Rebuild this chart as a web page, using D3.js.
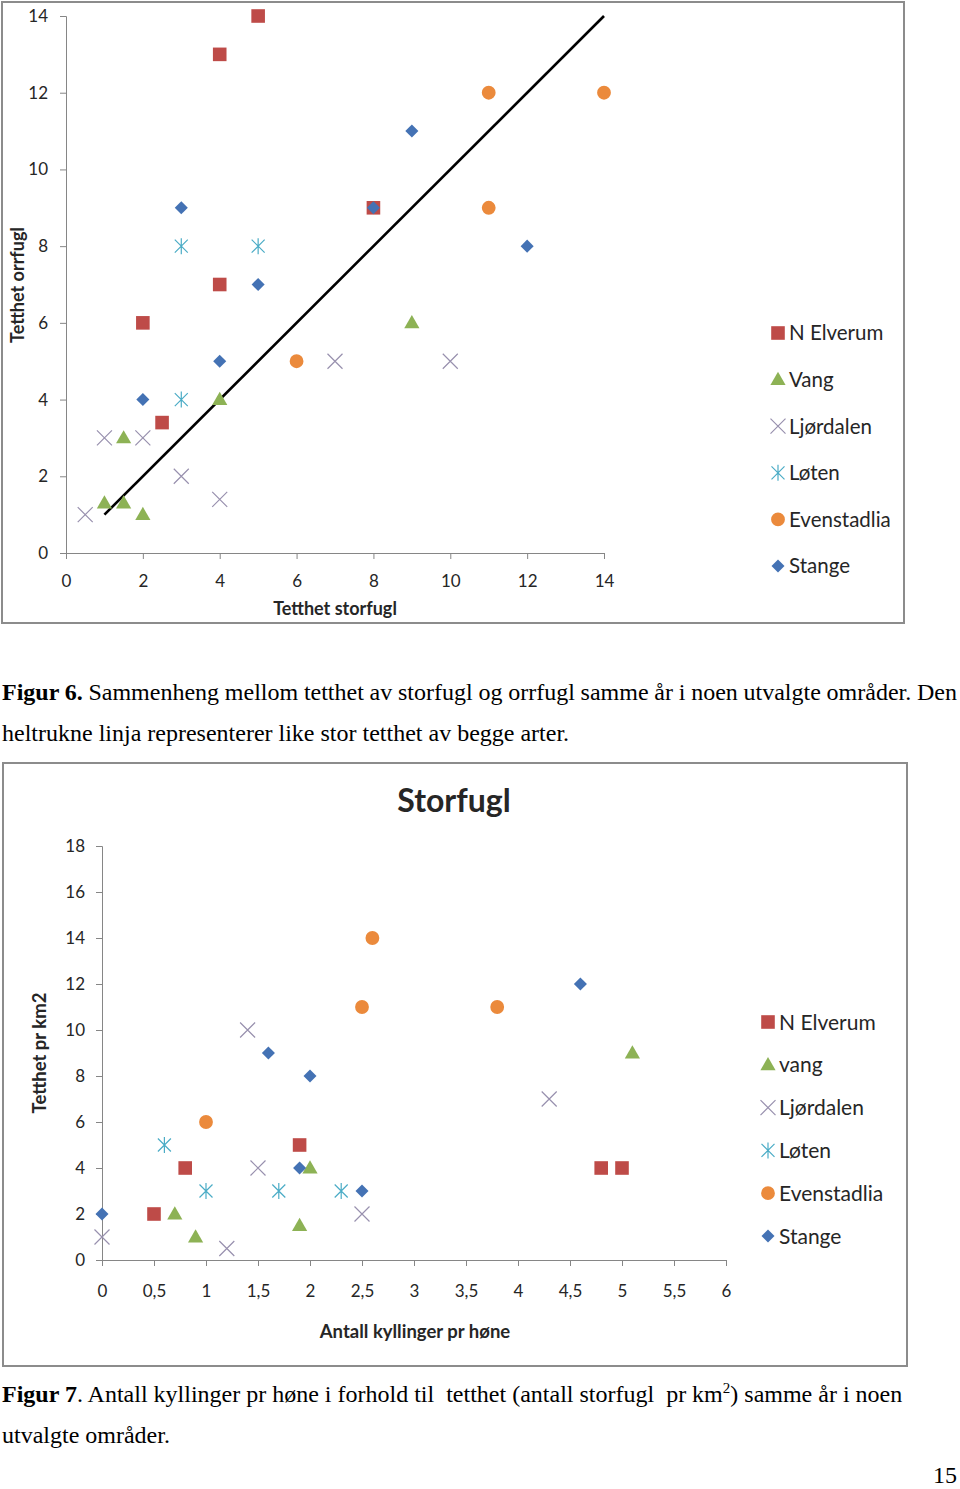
<!DOCTYPE html>
<html><head><meta charset="utf-8">
<script src="https://cdn.jsdelivr.net/npm/d3@7"></script>
<style>
body{margin:0;background:#fff;}
svg{display:block;}
</style></head>
<body>
<svg id="page" width="960" height="1489"></svg>
<script>
// ---------- DATA ----------
const seriesNames6 = ["N Elverum","Vang","Ljørdalen","Løten","Evenstadlia","Stange"];
const seriesNames7 = ["N Elverum","vang","Ljørdalen","Løten","Evenstadlia","Stange"];
const seriesColors = ["#BE4B48","#8DB255","#9890AE","#4BACC6","#EB8A3C","#4472B4"];
const seriesShapes = ["square","triangle","x","asterisk","circle","diamond"];

// Figur 6: [tetthet storfugl, tetthet orrfugl]
const fig6_NElverum   = [[5,14],[4,13],[4,7],[2,6],[2.5,3.4],[8,9]];
const fig6_Vang       = [[1,1.3],[1.5,1.3],[2,1],[1.5,3],[4,4],[9,6]];
const fig6_Ljordalen  = [[0.5,1],[1,3],[2,3],[3,2],[4,1.4],[7,5],[10,5]];
const fig6_Loten      = [[3,8],[5,8],[3,4]];
const fig6_Evenstadlia= [[6,5],[11,12],[11,9],[14,12]];
const fig6_Stange     = [[3,9],[5,7],[4,5],[2,4],[9,11],[8,9],[12,8]];
const fig6_equalLine  = [[1,1],[14,14]];
const fig6_xTicks = [0,2,4,6,8,10,12,14];
const fig6_yTicks = [0,2,4,6,8,10,12,14];

// Figur 7: [antall kyllinger pr høne, tetthet pr km2]
const fig7_NElverum   = [[0.5,2],[0.8,4],[1.9,5],[4.8,4],[5.0,4]];
const fig7_Vang       = [[0.7,2],[0.9,1],[1.9,1.5],[2.0,4],[5.1,9]];
const fig7_Ljordalen  = [[0,1],[1.2,0.5],[1.4,10],[1.5,4],[2.5,2],[4.3,7]];
const fig7_Loten      = [[0.6,5],[1.0,3],[1.7,3],[2.3,3]];
const fig7_Evenstadlia= [[1.0,6],[2.6,14],[2.5,11],[3.8,11]];
const fig7_Stange     = [[0,2],[1.6,9],[2.0,8],[1.9,4],[2.5,3],[4.6,12]];
const fig7_xTicks = [0,0.5,1,1.5,2,2.5,3,3.5,4,4.5,5,5.5,6];
const fig7_yTicks = [0,2,4,6,8,10,12,14,16,18];

const fig6_series = [fig6_NElverum,fig6_Vang,fig6_Ljordalen,fig6_Loten,fig6_Evenstadlia,fig6_Stange];
const fig7_series = [fig7_NElverum,fig7_Vang,fig7_Ljordalen,fig7_Loten,fig7_Evenstadlia,fig7_Stange];

// ---------- DRAW ----------
const svg = d3.select("#page");
const UI = "Lato, 'Open Sans', sans-serif";
const SERIF = "'Liberation Serif', 'DejaVu Serif', serif";
const AXIS = "#868686";

function drawMarker(g, shape, color, x, y){
  if(shape==="square"){
    g.append("path").attr("d", d3.symbol(d3.symbolSquare, 185)()).attr("transform",`translate(${x},${y})`).attr("fill",color);
  } else if(shape==="triangle"){
    g.append("path").attr("d", d3.symbol(d3.symbolTriangle, 100)()).attr("transform",`translate(${x},${y+1})`).attr("fill",color);
  } else if(shape==="circle"){
    g.append("path").attr("d", d3.symbol(d3.symbolCircle, 150)()).attr("transform",`translate(${x},${y})`).attr("fill",color);
  } else if(shape==="diamond"){
    g.append("path").attr("d", d3.symbol(d3.symbolSquare, 85)()).attr("transform",`translate(${x},${y}) rotate(45)`).attr("fill",color);
  } else if(shape==="x"){
    const p = d3.path(); const r=7.5;
    p.moveTo(-r,-r); p.lineTo(r,r); p.moveTo(-r,r); p.lineTo(r,-r);
    g.append("path").attr("d", p.toString()).attr("transform",`translate(${x},${y})`).attr("stroke",color).attr("stroke-width",1.2).attr("fill","none");
  } else if(shape==="asterisk"){
    const p = d3.path(); const r=6.5;
    p.moveTo(-r,-r); p.lineTo(r,r); p.moveTo(-r,r); p.lineTo(r,-r); p.moveTo(0,-8); p.lineTo(0,8);
    g.append("path").attr("d", p.toString()).attr("transform",`translate(${x},${y})`).attr("stroke",color).attr("stroke-width",1.2).attr("fill","none");
  }
}

function styleAxis(g, fs){
  g.select(".domain").attr("stroke",AXIS).attr("stroke-width",1);
  g.selectAll(".tick line").attr("stroke",AXIS).attr("stroke-width",1);
  g.selectAll(".tick text").attr("fill","#262626").attr("font-family",UI).attr("font-size",fs);
}

function drawChart(opt){
  const root = svg.append("g");
  root.append("rect").attr("x",opt.frame[0]).attr("y",opt.frame[1]).attr("width",opt.frame[2]).attr("height",opt.frame[3])
    .attr("fill","#fff").attr("stroke","#8c8c8c").attr("stroke-width",2);
  const x = d3.scaleLinear().domain(opt.xDomain).range(opt.xRange);
  const y = d3.scaleLinear().domain(opt.yDomain).range(opt.yRange);
  const fmt = v => String(v).replace(".", ",");
  const gx = root.append("g").attr("transform",`translate(0,${opt.yRange[0]})`)
    .call(d3.axisBottom(x).tickValues(opt.xTicks).tickSize(6).tickSizeOuter(6).tickPadding(opt.xPad).tickFormat(fmt));
  styleAxis(gx, opt.tickFs);
  const gy = root.append("g").attr("transform",`translate(${opt.xRange[0]},0)`)
    .call(d3.axisLeft(y).tickValues(opt.yTicks).tickSize(6).tickSizeOuter(6).tickPadding(opt.yPad).tickFormat(fmt));
  styleAxis(gy, opt.tickFs);

  if(opt.line){
    root.append("path").datum(opt.line)
      .attr("d", d3.line().x(d=>x(d[0])).y(d=>y(d[1])))
      .attr("stroke","#000").attr("stroke-width",2.6).attr("fill","none");
  }
  const pts = root.append("g");
  opt.series.forEach((s,i)=>{
    s.forEach(d=>drawMarker(pts, seriesShapes[i], seriesColors[i], x(d[0]), y(d[1])));
  });

  // axis titles
  root.append("text").attr("x",opt.xTitlePos[0]).attr("y",opt.xTitlePos[1]).attr("text-anchor","middle")
    .attr("font-family",UI).attr("font-weight","bold").attr("font-size",opt.titleFs).attr("fill","#262626").text(opt.xTitle);
  root.append("text").attr("transform",`translate(${opt.yTitlePos[0]},${opt.yTitlePos[1]}) rotate(-90)`).attr("text-anchor","middle")
    .attr("font-family",UI).attr("font-weight","bold").attr("font-size",opt.titleFs).attr("fill","#262626").text(opt.yTitle);
  if(opt.chartTitle){
    root.append("text").attr("x",opt.chartTitle[1]).attr("y",opt.chartTitle[2]).attr("text-anchor","middle")
      .attr("font-family",UI).attr("font-weight","bold").attr("font-size",32).attr("fill","#262626").text(opt.chartTitle[0]);
  }
  // legend
  const lg = root.append("g");
  opt.legendNames.forEach((n,i)=>{
    const ly = opt.legendPos[1] + i*opt.legendStep;
    drawMarker(lg, seriesShapes[i], seriesColors[i], opt.legendPos[0], ly);
    lg.append("text").attr("x",opt.legendPos[0]+11).attr("y",ly).attr("dy","0.36em")
      .attr("font-family",UI).attr("font-size",opt.legendFs).attr("fill","#262626").text(n);
  });
}

drawChart({
  frame:[2,2,902,621],
  xDomain:[0,14], yDomain:[0,14], xRange:[66,604], yRange:[553,16],
  xTicks:fig6_xTicks, yTicks:fig6_yTicks, xPad:16, yPad:12, tickFs:17,
  series:fig6_series, line:fig6_equalLine,
  xTitle:"Tetthet storfugl", yTitle:"Tetthet orrfugl", xTitlePos:[335,615], yTitlePos:[24,285], titleFs:18,
  legendNames:seriesNames6, legendPos:[778,333], legendStep:46.6, legendFs:20.5
});

drawChart({
  frame:[3,763,904,603],
  xDomain:[0,6], yDomain:[0,18], xRange:[102,726], yRange:[1260,846],
  xTicks:fig7_xTicks, yTicks:fig7_yTicks, xPad:19, yPad:11, tickFs:17,
  series:fig7_series, line:null, chartTitle:["Storfugl",454,812],
  xTitle:"Antall kyllinger pr høne", yTitle:"Tetthet pr km2", xTitlePos:[415,1338], yTitlePos:[46,1053], titleFs:18.5,
  legendNames:seriesNames7, legendPos:[768,1022], legendStep:42.8, legendFs:21
});

// ---------- CAPTIONS ----------
const CAP_FS = 24;
function capLine(x, y, parts, justifyWidth){
  const t = svg.append("text").attr("x",x).attr("y",y).attr("font-family",SERIF).attr("font-size",CAP_FS)
    .attr("fill","#000").style("white-space","pre");
  parts.forEach(p=>{
    const ts = t.append("tspan").text(p.t);
    if(p.b) ts.attr("font-weight","bold");
    if(p.sup) ts.attr("font-size",15).attr("dy",-9);
    if(p.after) ts.attr("dy",9);
  });
  if(justifyWidth){
    const w = t.node().getComputedTextLength();
    const nSpaces = parts.map(p=>p.t).join("").split(" ").length-1;
    const ws = (justifyWidth - w)/nSpaces;
    if(ws > -3) t.attr("word-spacing", ws);
  }
  return t;
}
capLine(2,700,[{t:"Figur 6.",b:true},{t:" Sammenheng mellom tetthet av storfugl og orrfugl samme år i noen utvalgte områder. Den"}],955);
capLine(2,741,[{t:"heltrukne linja representerer like stor tetthet av begge arter."}]);
capLine(2,1402,[{t:"Figur 7",b:true},{t:". Antall kyllinger pr høne i forhold til  tetthet (antall storfugl  pr km"},{t:"2",sup:true},{t:") samme år i noen",after:true}]);
capLine(2,1443,[{t:"utvalgte områder."}]);
svg.append("text").attr("x",957).attr("y",1483).attr("text-anchor","end").attr("font-family",SERIF).attr("font-size",CAP_FS).text("15");
</script>
</body></html>
